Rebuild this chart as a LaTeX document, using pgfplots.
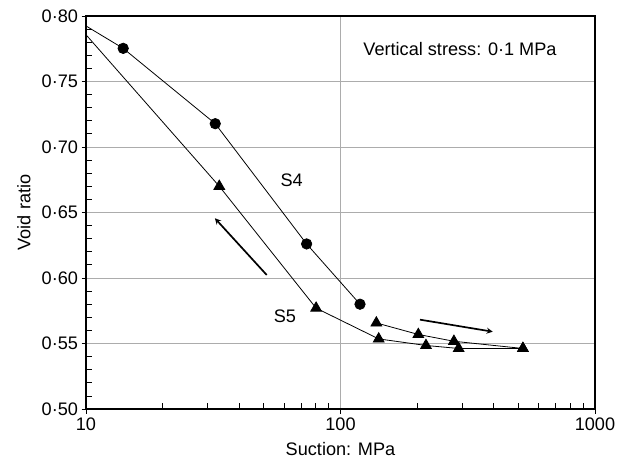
\documentclass[border=0pt]{standalone}
\usepackage{pgfplots}
\pgfplotsset{compat=1.18}
\usepackage{fontspec}
\setmainfont{Liberation Sans}
\newcommand{\bigfont}{\fontsize{18.2}{21}\selectfont}
\begin{document}
\begin{tikzpicture}[font=\bigfont]
\begin{axis}[
  scale only axis,
  width=509bp, height=393bp,
  xmode=log, log basis x=10,
  xmin=10, xmax=1000, ymin=0.5, ymax=0.8,
  xtick={10,100,1000}, xticklabels={10,100,1000},
  minor xtick={20,30,40,50,60,70,80,90,200,300,400,500,600,700,800,900},
  ytick={0.5,0.55,0.6,0.65,0.7,0.75,0.8},
  yticklabels={0·50,0·55,0·60,0·65,0·70,0·75,0·80},
  minor ytick={0.51,0.52,0.53,0.54,0.56,0.57,0.58,0.59,0.61,0.62,0.63,0.64,0.66,0.67,0.68,0.69,0.71,0.72,0.73,0.74,0.76,0.77,0.78,0.79},
  xtick pos=bottom, ytick pos=left,
  tick align=outside,
  major tick length=4.5bp, minor tick length=5.5bp,
  minor x tick style={yshift=5.5bp},
  minor y tick style={xshift=5.5bp},
  tick style={black, line width=0.8pt},
  xmajorgrids, ymajorgrids,
  major grid style={gray!65, line width=0.6pt},
  axis line style={black, line width=1.1pt},
  tick label style={font=\bigfont},
  label style={font=\bigfont},
  every node/.append style={font=\bigfont},
  xticklabel style={yshift=-0.5bp},
  xlabel={Suction: MPa},
  ylabel={Void ratio},
  xlabel style={at={(axis description cs:0.5,-0.102)}, anchor=center},
  ylabel style={at={(axis description cs:-0.122,0.5)}, anchor=center},
  clip=true,
]
% S4
\addplot[black, line width=0.8pt, mark=*, mark size=5.2bp, mark indices={2,3,4,5}] coordinates {
  (10,0.7924) (14.0,0.7753) (32.2,0.7178) (73.6,0.626) (119.3,0.580)
};
% S5 lower branch
\addplot[black, line width=0.8pt, mark=triangle*, mark size=6.2bp, mark indices={2,3,4,5,6,7}] coordinates {
  (10,0.7857) (33.4,0.6700) (80.2,0.5770) (141.3,0.5535) (216.7,0.5485) (291.3,0.5462) (521,0.5462)
};
% S5 upper branch
\addplot[black, line width=0.8pt, mark=triangle*, mark size=6.2bp] coordinates {
  (138.3,0.5657) (202.2,0.5569) (279,0.5517) (521,0.5462)
};
% arrows
\addplot[black, line width=1.7pt, -stealth, mark=none] coordinates {(51.3,0.6023) (32.1,0.6456)};
\addplot[black, line width=1.7pt, -stealth, mark=none] coordinates {(205.3,0.5682) (396.5,0.5590)};
\node at (axis cs:64.3,0.6748) {S4};
\node at (axis cs:60.5,0.571) {S5};
\node at (axis cs:294.8,0.7746) {Vertical stress: 0·1 MPa};
\end{axis}
\pgfresetboundingbox
\path ([xshift=-86bp,yshift=-52bp]current axis.south west) rectangle ([xshift=34bp,yshift=16bp]current axis.north east);
\end{tikzpicture}
\end{document}
